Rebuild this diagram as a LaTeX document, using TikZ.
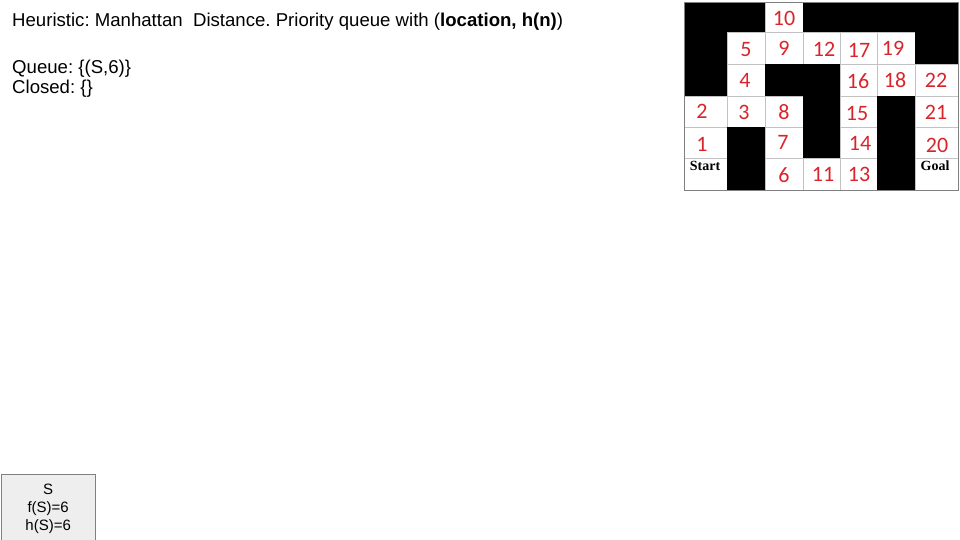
\documentclass[tikz,border=0pt]{standalone}
\usepackage{fontspec}
\setmainfont{Liberation Sans}
\newfontfamily\numfont{Carlito}
\newfontfamily\labelfont{Liberation Serif}
\usepackage{tikz}
\usetikzlibrary{positioning}
\usepackage{xcolor}
\frenchspacing
\definecolor{mzred}{RGB}{218,36,44}
\definecolor{mzgrid}{RGB}{195,195,195}
\definecolor{mzborder}{RGB}{128,128,128}
\definecolor{mzbox}{RGB}{238,238,238}
\tikzstyle{cellnum} = [inner sep=0pt, text=mzred, font=\numfont\fontsize{22}{24}\selectfont]
\tikzstyle{cornerlabel} = [inner sep=0pt, font=\labelfont\bfseries\fontsize{14}{16}\selectfont]
\tikzstyle{infotext} = [inner sep=0pt, anchor=base west, font=\fontsize{18.6}{21}\selectfont]
\tikzstyle{searchnode} = [rectangle, draw=mzborder, fill=mzbox, align=center, anchor=north west, minimum width=94, minimum height=70, font=\fontsize{15}{18}\selectfont]

\begin{document}
\begin{tikzpicture}[x=1pt, y=-1pt]
\useasboundingbox (0,0) rectangle (960,540);

% Header
\node[infotext] (head) at (12,27) {Heuristic: Manhattan~ Distance. Priority queue with (\textbf{location, h(n)})};
\node[infotext] (queue) at (12,74) {Queue: \{(S,6)\}};
\node[infotext] (closed) at (12,94) {Closed: \{\}};

% Maze
\fill[white] (684,2) rectangle (958,190);
\foreach \x in {727,765,803,840,877,915}
  \draw[mzgrid] (\x,2) -- (\x,190);
\foreach \y in {32,64,96,127,158}
  \draw[mzgrid] (684,\y) -- (958,\y);
\foreach \xa/\ya/\xb/\yb in {684/2/727/96, 727/2/765/32, 803/2/958/32, 915/32/958/64,
    765/64/840/96, 803/96/840/158, 877/96/915/190, 727/127/765/190}
  \fill[black] (\xa,\ya) rectangle (\xb,\yb);
\draw[mzborder] (684,2) rectangle (958,190);

% Cell numbers
\foreach \t/\x/\y in {10/784/18, 5/746/50, 9/784/48, 12/824/49, 17/859/50, 19/893/48,
    4/745/80, 16/858/81, 18/895/80, 22/936/80, 2/702/111, 3/744/112, 8/784/112,
    15/857/113, 21/936/112, 1/702/144, 7/783/142, 14/860/143, 20/937/145,
    6/784/175, 11/823/174, 13/859/174}
  \node[cellnum] (c\t) at (\x,\y) {\t};
\node[cornerlabel] (start) at (705,166) {Start};
\node[cornerlabel] (goal) at (935,166) {Goal};

% Search tree
\node[searchnode] (s) at (1,474) {S\\f(S)=6\\h(S)=6};
\end{tikzpicture}
\end{document}
